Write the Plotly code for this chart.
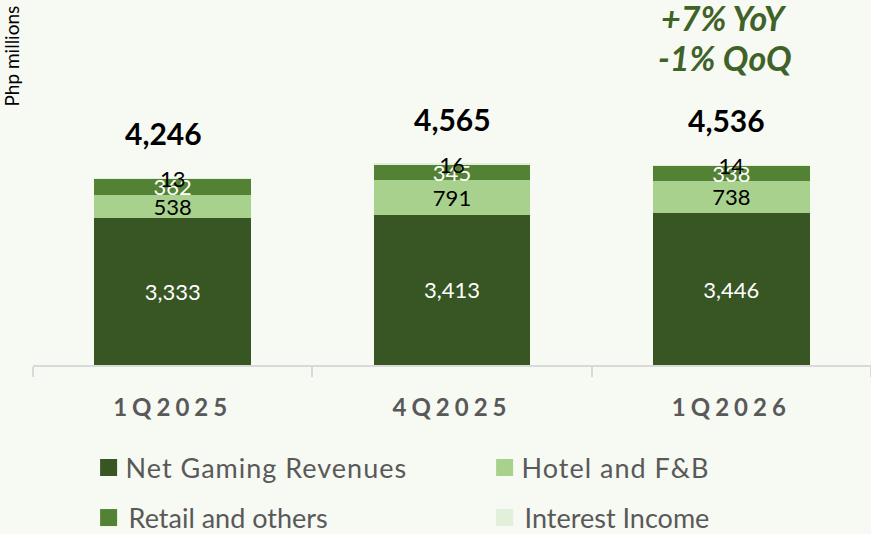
import plotly.graph_objects as go

categories = ["1Q2025", "4Q2025", "1Q2026"]
net_gaming = [3333, 3413, 3446]
hotel_fb = [538, 791, 738]
retail = [362, 345, 338]
interest = [13, 16, 14]
series_names = ["Net Gaming Revenues", "Hotel and F&B", "Retail and others", "Interest Income"]
growth_notes = ["+7% YoY", "-1% QoQ"]
y_title = "Php millions"

totals = [a + b + c + d for a, b, c, d in zip(net_gaming, hotel_fb, retail, interest)]

colors = ["#375623", "#A9D18E", "#548235", "#E2EFDA"]
text_colors = ["white", "black", "white", "black"]
FONT = "Lato, 'Open Sans', sans-serif"
BG = "#F7F9F3"

fig = go.Figure()
all_series = [net_gaming, hotel_fb, retail, interest]
legends = ["legend", "legend", "legend2", "legend2"]
for name, vals, col, tcol, lg in zip(series_names, all_series, colors, text_colors, legends):
    fig.add_trace(go.Bar(
        x=categories, y=vals, name=name,
        marker=dict(color=col, line=dict(width=0)),
        text=[f"{v:,}" for v in vals],
        textposition="inside", insidetextanchor="middle",
        textangle=0, constraintext="none",
        textfont=dict(family=FONT, size=22, color=tcol),
        hoverinfo="skip",
        legend=lg,
    ))

total_shift = [-9, 0, -5]
for c, t, s in zip(categories, totals, total_shift):
    fig.add_annotation(x=c, y=t, text=f"<b>{t:,}</b>", showarrow=False,
                       yanchor="middle", yshift=45, xshift=s,
                       font=dict(family=FONT, size=30, color="black"))

fig.add_annotation(x=categories[2], y=1 - 17 / 365, yref="paper", xshift=-7,
                   yanchor="middle", xanchor="center",
                   text=f"<b><i>{growth_notes[0]}</i></b>", showarrow=False,
                   font=dict(family=FONT, size=34, color="#3F6228"))
fig.add_annotation(x=categories[2], y=1 - 57 / 365, yref="paper", xshift=-6,
                   yanchor="middle", xanchor="center",
                   text=f"<b><i>{growth_notes[1]}</i></b>", showarrow=False,
                   font=dict(family=FONT, size=34, color="#3F6228"))

fig.add_annotation(x=(11 - 33) / 838, xref="paper", y=1 - 4 / 365, yref="paper", text=y_title,
                   textangle=-90, showarrow=False, xanchor="center", yanchor="top",
                   font=dict(family=FONT, size=19, color="black"))

legend_common = dict(orientation="h", xref="container", yref="container",
                     xanchor="left", yanchor="middle", traceorder="normal",
                     entrywidth=351, entrywidthmode="pixels",
                     font=dict(family=FONT, size=27, color="#595959"),
                     bgcolor="rgba(0,0,0,0)")

fig.update_layout(
    width=871, height=534,
    margin=dict(l=33, r=0, t=0, b=169),
    paper_bgcolor=BG, plot_bgcolor=BG,
    barmode="stack", bargap=0.44,
    showlegend=True,
    legend=dict(x=88.6 / 871, y=1 - 468 / 534, **legend_common),
    legend2=dict(x=88.6 / 871, y=1 - 518 / 534, **legend_common),
    xaxis=dict(showline=True, linecolor="#D9D9D9", linewidth=1.5,
               ticks="outside", tickson="boundaries", ticklen=10, tickcolor="#D9D9D9",
               tickwidth=1.5, ticklabelstandoff=20,
               tickfont=dict(family=FONT, size=24, color="#595959"),
               tickvals=categories, ticktext=[f"<b>{c}</b>" for c in categories]),
    yaxis=dict(range=[0, 8288], visible=False),
    font=dict(family=FONT),
)

post = """
document.body.style.margin='0';
var gd = document.getElementById('{plot_id}');
function restyleText(){
  gd.querySelectorAll('.xtick text').forEach(function(t){ t.style.letterSpacing='5px'; });
  gd.querySelectorAll('.legendtext').forEach(function(t){ t.style.letterSpacing='1px'; t.setAttribute('x', 37); });
  gd.querySelectorAll('.legendpoints path').forEach(function(p){ p.setAttribute('d','M8.5,8.5H-8.5V-8.5H8.5Z'); });
}
restyleText();
gd.on('plotly_afterplot', restyleText);
setTimeout(restyleText, 100);
setTimeout(restyleText, 400);
"""

fig.write_html("out.html", post_script=post, config={"displayModeBar": False})
